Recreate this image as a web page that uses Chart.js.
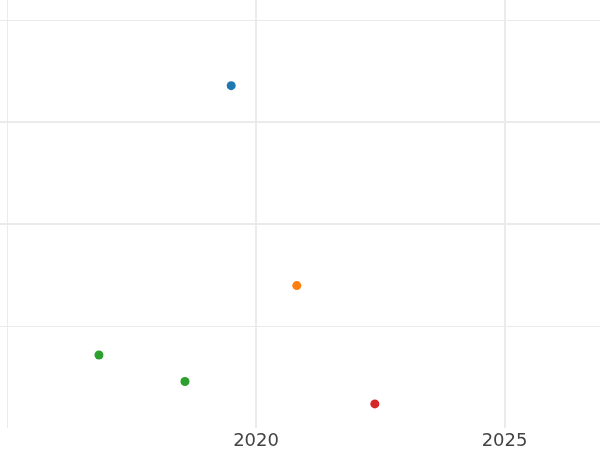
<!DOCTYPE html>
<html>
<head>
<meta charset="utf-8">
<script src="https://cdn.jsdelivr.net/npm/chart.js@4/dist/chart.umd.min.js"></script>
<style>
  html, body { margin: 0; padding: 0; background: #fff; }
  #c { display: block; }
</style>
</head>
<body>
<canvas id="c" width="600" height="450"></canvas>
<script>
// Datenpunkte (Jahr, Wert)
const BLUE_X = [2019.5];
const BLUE_Y = [3.36];
const ORANGE_X = [2020.82];
const ORANGE_Y = [1.40];
const GREEN_X = [2016.84, 2018.57];
const GREEN_Y = [0.72, 0.46];
const RED_X = [2022.39];
const RED_Y = [0.24];

// Achsen / Gitter
const X_GRID = [2015, 2020, 2025];
const X_LABELS = ["", "2020", "2025"];
const Y_GRID = [1, 2, 3, 4];

const GRID = "#ebebeb";

function pts(xs, ys) {
  return xs.map((x, i) => ({ x: x, y: ys[i] }));
}

function series(label, xs, ys, color) {
  return {
    label: label,
    data: pts(xs, ys),
    backgroundColor: color,
    borderWidth: 0,
    pointRadius: 4.5,
    pointHoverRadius: 4.5,
  };
}

new Chart(document.getElementById("c"), {
  type: "scatter",
  data: {
    datasets: [
      series("blau", BLUE_X, BLUE_Y, "#1f77b4"),
      series("orange", ORANGE_X, ORANGE_Y, "#ff7f0e"),
      series("grün", GREEN_X, GREEN_Y, "#2ca02c"),
      series("rot", RED_X, RED_Y, "#d62728"),
    ],
  },
  options: {
    responsive: false,
    animation: false,
    layout: { padding: { left: 0, right: 0, top: 0, bottom: -4 }, autoPadding: false },
    plugins: { legend: { display: false }, tooltip: { enabled: false } },
    scales: {
      x: {
        type: "linear",
        min: 2014.849,
        max: 2026.92,
        afterBuildTicks: (s) => { s.ticks = X_GRID.map((v) => ({ value: v })); },
        border: { display: false },
        grid: {
          color: GRID,
          drawTicks: false,
          lineWidth: (c) => (c.tick && c.tick.value === 2015 ? 1 : 2),
        },
        ticks: {
          padding: 2,
          color: "#444",
          font: { family: "DejaVu Sans", size: 18 },
          callback: (v) => X_LABELS[X_GRID.indexOf(v)] || "",
        },
      },
      y: {
        type: "linear",
        min: 0,
        max: 4.2,
        afterBuildTicks: (s) => { s.ticks = Y_GRID.map((v) => ({ value: v })); },
        border: { display: false },
        grid: {
          color: GRID,
          drawTicks: false,
          lineWidth: (c) => (c.tick && (c.tick.value === 2 || c.tick.value === 3) ? 2 : 1),
        },
        ticks: { display: false },
      },
    },
  },
});
</script>
</body>
</html>
